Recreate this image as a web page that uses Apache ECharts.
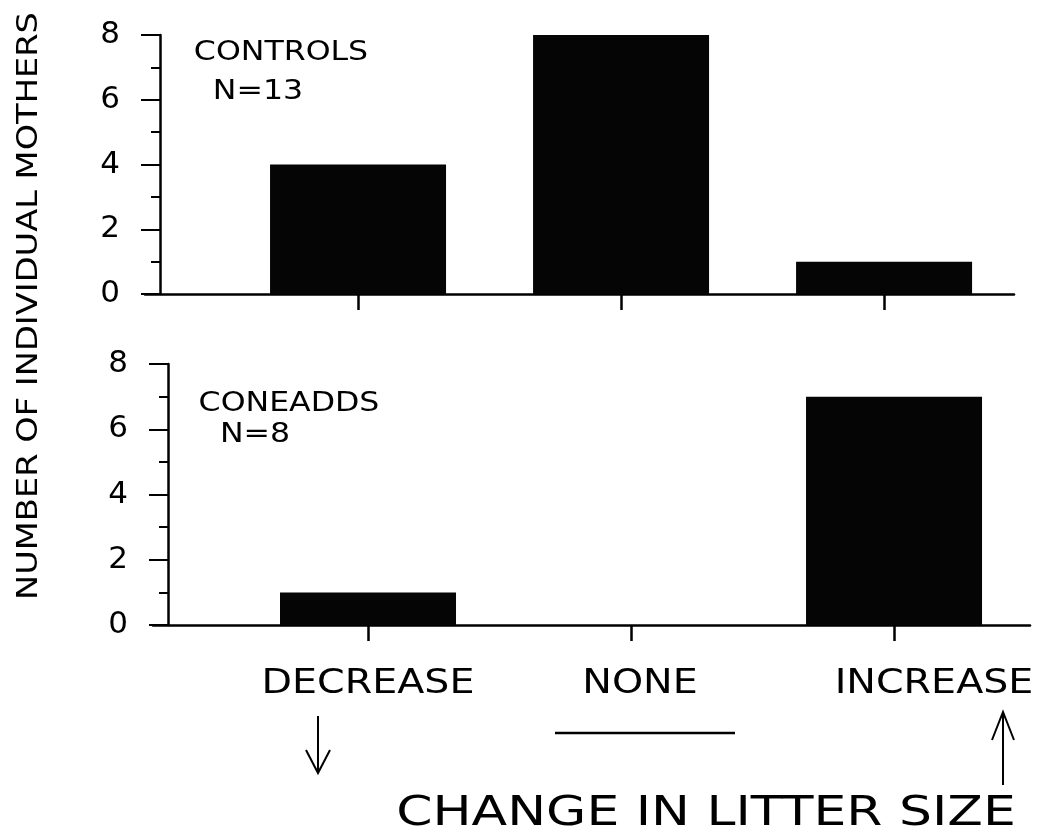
<!DOCTYPE html>
<html>
<head>
<meta charset="utf-8">
<script src="https://cdn.jsdelivr.net/npm/echarts@6/dist/echarts.min.js"></script>
<style>
  html, body { margin: 0; padding: 0; background: #fff; }
  #chart { width: 1049px; height: 840px; }
</style>
</head>
<body>
<div id="chart"></div>
<script>
// Litter-size change categories and counts of mothers per group
const categories = ['DECREASE', 'NONE', 'INCREASE'];
const controlsCounts = [4, 8, 1];
const coneaddsCounts = [1, 0, 7];
const panelNames = ['CONTROLS', 'CONEADDS'];
const panelN = ['N=13', 'N=8'];
const yTicks = [0, 2, 4, 6, 8];
const yTitle = 'NUMBER OF INDIVIDUAL MOTHERS';
const xTitle = 'CHANGE IN LITTER SIZE';

const FONT = '"DejaVu Sans ExtraLight", "DejaVu Sans", "Liberation Sans", sans-serif';
const INK = '#000';

const chart = echarts.init(document.getElementById('chart'), null, { renderer: 'canvas' });

function catPos(i) { return i + 1; }

function makeX(gridIndex, min, max) {
  return {
    type: 'value', gridIndex, min, max,
    axisLine: { show: true, onZero: false, lineStyle: { color: INK, width: 2.5 } },
    axisTick: { show: true, customValues: categories.map((c, i) => catPos(i)), length: 16, lineStyle: { color: INK, width: 2.5 } },
    axisLabel: { show: false },
    splitLine: { show: false }
  };
}

function makeY(gridIndex) {
  return {
    type: 'value', gridIndex, min: yTicks[0], max: yTicks[yTicks.length - 1], interval: 2,
    offset: -15,
    axisLine: { show: true, lineStyle: { color: INK, width: 2.5 } },
    axisTick: { show: true, length: 19, lineStyle: { color: INK, width: 2 } },
    minorTick: { show: true, splitNumber: 2, length: 9, lineStyle: { color: INK, width: 2 } },
    axisLabel: { color: INK, fontSize: 31, fontFamily: FONT, margin: 40 },
    splitLine: { show: false }
  };
}

function barSeries(idx, values) {
  return {
    type: 'bar', xAxisIndex: idx, yAxisIndex: idx,
    data: values.map((v, i) => [catPos(i), v]),
    barWidth: 176,
    itemStyle: { color: '#050505' },
    silent: true
  };
}

chart.setOption({
  animation: false,
  backgroundColor: '#fff',
  grid: [
    { left: 145, top: 35, width: 869, height: 259 },
    { left: 153, top: 364, width: 877, height: 261 }
  ],
  xAxis: [makeX(0, 0.19, 3.494), makeX(1, 0.1825, 3.517)],
  yAxis: [makeY(0), makeY(1)],
  series: [barSeries(0, controlsCounts), barSeries(1, coneaddsCounts)]
});

// Annotations: panel labels, category labels with direction marks, axis titles
function txt(text, x, y, size, sx, extra) {
  return Object.assign({
    type: 'text', x, y, scaleX: sx || 1, silent: true,
    style: { text, x: 0, y: 0, fill: INK, font: size + 'px ' + FONT, align: 'center', verticalAlign: 'middle' }
  }, extra || {});
}
function seg(points, w) {
  return { type: 'polyline', silent: true, shape: { points }, style: { stroke: INK, lineWidth: w || 2, fill: null } };
}

const g = [];
// panel labels
g.push(txt(panelNames[0], 281, 53, 27, 1.17));
g.push(txt(panelN[0], 258, 92, 27, 1.17));
g.push(txt(panelNames[1], 289, 404, 27, 1.17));
g.push(txt(panelN[1], 255, 435, 27, 1.17));

// category labels under the lower panel
const labelShift = [0, 9, 40];
categories.forEach((c, i) => {
  const px = chart.convertToPixel({ xAxisIndex: 1 }, catPos(i));
  g.push(txt(c, px + labelShift[i], 684, 33, 1.2));
});

// direction marks: down arrow, flat line, up arrow
const downX = 318;
g.push(seg([[downX, 716], [downX, 773]], 2));
g.push(seg([[downX - 12, 750], [downX, 773], [downX + 12, 750]], 2));
g.push(seg([[555, 733], [735, 733]], 2.5));
const upX = 1003;
g.push(seg([[upX, 785], [upX, 712]], 2));
g.push(seg([[upX - 11, 740], [upX, 712], [upX + 11, 740]], 2));

// axis titles
g.push(txt(xTitle, 706, 815, 40, 1.3));
g.push(txt(yTitle, 29, 306, 29, 1.16, { rotation: Math.PI / 2 }));

chart.setOption({ graphic: { elements: g } });
</script>
</body>
</html>
